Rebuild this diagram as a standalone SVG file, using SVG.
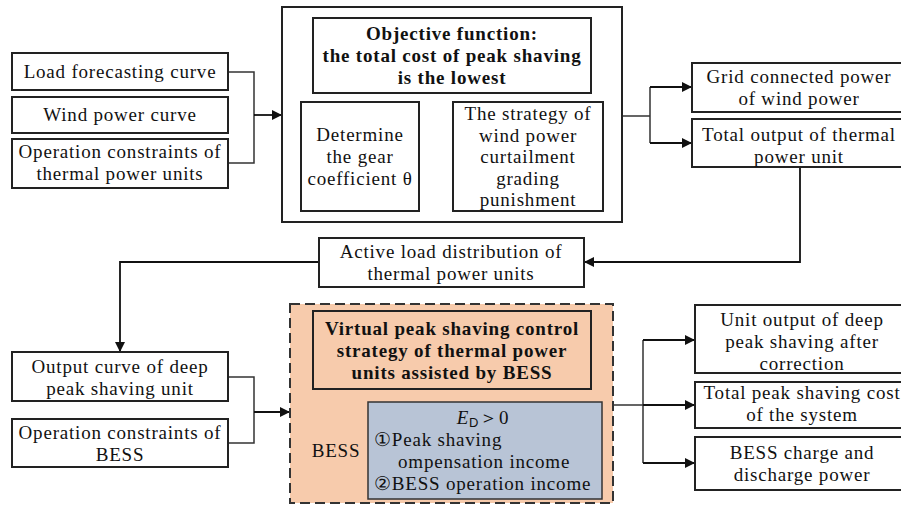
<svg xmlns="http://www.w3.org/2000/svg" width="901" height="506" viewBox="0 0 901 506">
<defs>
<marker id="ah" viewBox="0 0 10 10" refX="10" refY="5" markerWidth="10" markerHeight="10" markerUnits="userSpaceOnUse" orient="auto">
<path d="M0,0 L10,5 L0,10 Z" fill="#111"/>
</marker>
<style>
.box{fill:#fff;stroke:#222;stroke-width:2}
.t{font-family:'Liberation Serif','DejaVu Serif',serif;font-size:19px;letter-spacing:0.8px;fill:#111;text-anchor:middle}
.b{font-weight:bold}
.l{text-anchor:start}
.c{fill:none;stroke:#333;stroke-width:1.5}
.a{fill:none;stroke:#111;stroke-width:1.8;marker-end:url(#ah)}
</style>
</defs>
<rect width="901" height="506" fill="#fff"/>

<g id="connectors">
<path class="c" d="M228,72 H254 V163 H228"/>
<path class="a" d="M254,115 H282"/>
<path class="a" d="M419,156 H453"/>
<path class="c" d="M622,116 H650 M650,87 V143"/>
<path class="a" d="M650,87 H692"/>
<path class="a" d="M650,143 H692"/>
<path class="a" d="M800,167 V262 H584"/>
<path class="a" d="M319,262 H120 V352"/>
<path class="c" d="M228,377 H254 V443 H228"/>
<path class="a" d="M254,412 H290"/>
<path class="c" d="M613,405 H643 M643,340 V463"/>
<path class="a" d="M643,340 H695"/>
<path class="a" d="M643,405 H695"/>
<path class="a" d="M643,463 H695"/>
</g>

<g id="load-forecasting">
<rect class="box" x="12" y="53" width="216" height="37"/>
<text class="t" x="120" y="78">Load forecasting curve</text>
</g>
<g id="wind-power-curve">
<rect class="box" x="12" y="97" width="216" height="36"/>
<text class="t" x="120" y="121">Wind power curve</text>
</g>
<g id="thermal-constraints">
<rect class="box" x="12" y="139" width="216" height="49"/>
<text class="t" x="120" y="158">Operation constraints of</text>
<text class="t" x="120" y="180">thermal power units</text>
</g>

<g id="optimization">
<rect class="box" x="282" y="7" width="340" height="215"/>
<g id="objective">
<rect class="box" x="313" y="18" width="278" height="75"/>
<text class="t b" x="452" y="40">Objective function:</text>
<text class="t b" x="452" y="62">the total cost of peak shaving</text>
<text class="t b" x="452" y="84">is the lowest</text>
</g>
<g id="gear-coefficient">
<rect class="box" x="301" y="102" width="118" height="109"/>
<text class="t" x="360" y="141">Determine</text>
<text class="t" x="360" y="163">the gear</text>
<text class="t" x="360" y="185">coefficient θ</text>
</g>
<g id="curtailment-strategy">
<rect class="box" x="453" y="102" width="150" height="109"/>
<text class="t" x="528" y="120">The strategy of</text>
<text class="t" x="528" y="141.5">wind power</text>
<text class="t" x="528" y="163">curtailment</text>
<text class="t" x="528" y="184.5">grading</text>
<text class="t" x="528" y="206">punishment</text>
</g>
</g>

<g id="grid-connected">
<rect class="box" x="692" y="63" width="212" height="49"/>
<text class="t" x="799" y="83">Grid connected power</text>
<text class="t" x="799" y="105">of wind power</text>
</g>
<g id="total-thermal">
<rect class="box" x="692" y="119" width="212" height="48"/>
<text class="t" x="799" y="141">Total output of thermal</text>
<text class="t" x="799" y="163">power unit</text>
</g>

<g id="active-load">
<rect class="box" x="319" y="238" width="265" height="49"/>
<text class="t" x="451" y="258">Active load distribution of</text>
<text class="t" x="451" y="280">thermal power units</text>
</g>

<g id="output-curve">
<rect class="box" x="12" y="352" width="216" height="49"/>
<text class="t" x="120" y="373">Output curve of deep</text>
<text class="t" x="120" y="395">peak shaving unit</text>
</g>
<g id="bess-constraints">
<rect class="box" x="12" y="419" width="216" height="48"/>
<text class="t" x="120" y="439">Operation constraints of</text>
<text class="t" x="120" y="461">BESS</text>
</g>

<g id="virtual-peak-shaving">
<rect x="290" y="304" width="323" height="199" fill="#F7CBAC" stroke="#333" stroke-width="2" stroke-dasharray="10,5"/>
<g id="strategy-title">
<rect x="313" y="311" width="278" height="78" fill="#F7CBAC" stroke="#222" stroke-width="2"/>
<text class="t b" x="452" y="335">Virtual peak shaving control</text>
<text class="t b" x="452" y="357">strategy of thermal power</text>
<text class="t b" x="452" y="379">units assisted by BESS</text>
</g>
<text class="t" x="336" y="457">BESS</text>
<g id="bess-income">
<rect x="368" y="402" width="234" height="97" fill="#B8C4D6" stroke="#333" stroke-width="1.5"/>
<text class="t" x="483" y="424"><tspan font-style="italic">E</tspan><tspan font-family="'Liberation Sans',sans-serif" font-size="13" dy="3">D</tspan><tspan dy="-3">＞0</tspan></text>
<text class="t l" x="374" y="446">①Peak shaving</text>
<text class="t l" x="398" y="468">ompensation income</text>
<text class="t l" x="374" y="490">②BESS operation income</text>
</g>
</g>

<g id="unit-output">
<rect class="box" x="695" y="305" width="209" height="68"/>
<text class="t" x="802" y="326">Unit output of deep</text>
<text class="t" x="802" y="348">peak shaving after</text>
<text class="t" x="802" y="370">correction</text>
</g>
<g id="total-cost">
<rect class="box" x="695" y="382" width="209" height="46"/>
<text class="t" x="802" y="399">Total peak shaving cost</text>
<text class="t" x="802" y="421">of the system</text>
</g>
<g id="bess-power">
<rect class="box" x="695" y="437" width="209" height="53"/>
<text class="t" x="802" y="459">BESS charge and</text>
<text class="t" x="802" y="481">discharge power</text>
</g>
</svg>
